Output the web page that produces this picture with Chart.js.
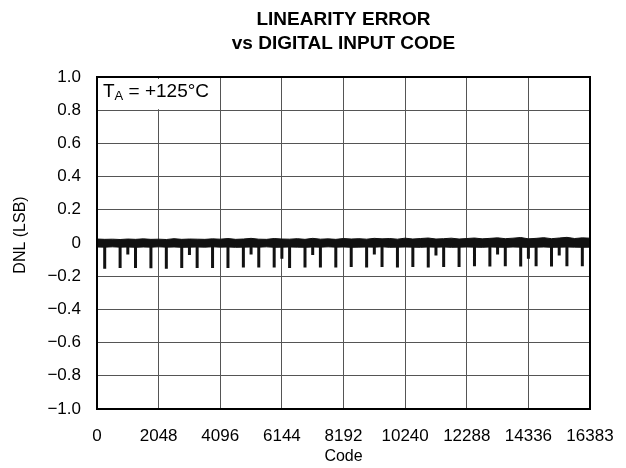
<!DOCTYPE html>
<html>
<head>
<meta charset="utf-8">
<script src="https://cdn.jsdelivr.net/npm/chart.js@4.4.0/dist/chart.umd.min.js"></script>
<style>
html,body{margin:0;padding:0;background:#fff;}
canvas{display:block;}
</style>
</head>
<body>
<canvas id="c" width="626" height="468"></canvas>
<script>
// ---- data ----
const titleLines = ["LINEARITY ERROR", "vs DIGITAL INPUT CODE"];
const xTickValues = [0, 2048, 4096, 6144, 8192, 10240, 12288, 14336, 16383];
const yTickValues = [-1, -0.8, -0.6, -0.4, -0.2, 0, 0.2, 0.4, 0.6, 0.8, 1];

// Band of DNL noise around zero (upper / lower envelope, every 256 codes)
const bandCodes = [0,256,512,768,1024,1280,1536,1792,2048,2304,2560,2816,3072,3328,3584,3840,
  4096,4352,4608,4864,5120,5376,5632,5888,6144,6400,6656,6912,7168,7424,7680,7936,
  8192,8448,8704,8960,9216,9472,9728,9984,10240,10496,10752,11008,11264,11520,11776,12032,
  12288,12544,12800,13056,13312,13568,13824,14080,14336,14592,14848,15104,15360,15616,15872,16128,16383];
const bandUpper = [0.024,0.022,0.023,0.021,0.024,0.022,0.025,0.022,0.023,0.021,0.026,0.022,0.024,0.023,0.022,0.025,
  0.023,0.027,0.022,0.024,0.028,0.023,0.022,0.027,0.024,0.023,0.026,0.022,0.028,0.023,0.025,0.022,
  0.027,0.024,0.026,0.023,0.028,0.025,0.027,0.023,0.029,0.024,0.027,0.030,0.024,0.026,0.029,0.024,
  0.027,0.030,0.025,0.028,0.031,0.026,0.029,0.033,0.025,0.028,0.032,0.026,0.030,0.034,0.027,0.031,0.029];
const bandLower = [-0.024,-0.025,-0.023,-0.025,-0.024,-0.026,-0.024,-0.025,-0.023,-0.025,-0.024,-0.026,-0.025,-0.024,-0.025,-0.023,
  -0.025,-0.024,-0.026,-0.025,-0.024,-0.025,-0.023,-0.026,-0.025,-0.024,-0.025,-0.026,-0.024,-0.025,-0.023,-0.025,
  -0.024,-0.026,-0.025,-0.024,-0.025,-0.023,-0.026,-0.025,-0.024,-0.025,-0.026,-0.024,-0.025,-0.024,-0.026,-0.025,
  -0.024,-0.025,-0.026,-0.024,-0.025,-0.026,-0.024,-0.025,-0.026,-0.025,-0.024,-0.026,-0.025,-0.024,-0.025,-0.026,-0.025];

// Negative DNL spikes (code, DNL value at bottom of spike)
const spikeCodes = [256,768,1024,1280,1792,2304,2816,3072,3328,3840,
  4352,4864,5120,5376,5888,6144,6400,6912,7168,7424,7936,
  8448,8960,9216,9472,9984,10496,11008,11264,11520,12032,
  12544,13056,13312,13568,14080,14336,14592,15104,15360,15616,16128];
const spikeValues = [-0.155,-0.150,-0.070,-0.150,-0.152,-0.155,-0.150,-0.072,-0.150,-0.150,
  -0.150,-0.148,-0.070,-0.148,-0.148,-0.095,-0.150,-0.148,-0.072,-0.148,-0.148,
  -0.145,-0.148,-0.070,-0.145,-0.148,-0.145,-0.148,-0.075,-0.145,-0.145,
  -0.140,-0.142,-0.070,-0.140,-0.142,-0.095,-0.140,-0.142,-0.075,-0.140,-0.140];
const annotation = {main: "T", sub: "A", rest: " = +125°C"};
const xTitle = "Code";
const yTitle = "DNL (LSB)";

// ---- build datasets ----
const upperPts = bandCodes.map((c, i) => ({x: c, y: bandUpper[i]}));
const lowerPts = bandCodes.map((c, i) => ({x: c, y: bandLower[i]}));
const spikePts = [];
spikeCodes.forEach((c, i) => {
  spikePts.push({x: c, y: 0});
  spikePts.push({x: c, y: spikeValues[i]});
  spikePts.push({x: c, y: null});
});

const FONT = "'Liberation Sans', Arial, Helvetica, sans-serif";

function fmtY(v) {
  const r = Math.round(v * 10) / 10;
  if (r === 0) return "0";
  return (r < 0 ? "\u2212" : "") + Math.abs(r).toFixed(1);
}

const decor = {
  id: 'decor',
  afterDatasetsDraw(chart) {
    const ctx = chart.ctx;
    const a = chart.chartArea;
    const xs = chart.scales.x, ys = chart.scales.y;
    // annotation box (covers top-left grid cells)
    const bx1 = a.left + 1, bx2 = xs.getPixelForValue(4096) - 1;
    const by1 = a.top + 2, by2 = ys.getPixelForValue(0.8) - 1;
    ctx.save();
    ctx.fillStyle = '#fff';
    ctx.fillRect(bx1, by1, bx2 - bx1, by2 - by1);
    ctx.fillStyle = '#000';
    ctx.textBaseline = 'alphabetic';
    ctx.textAlign = 'left';
    let x = a.left + 6;
    const base = a.top + 20;
    ctx.font = "19px " + FONT;
    ctx.fillText(annotation.main, x, base);
    x += ctx.measureText(annotation.main).width;
    ctx.font = "13px " + FONT;
    ctx.fillText(annotation.sub, x, base + 3);
    x += ctx.measureText(annotation.sub).width;
    ctx.font = "19px " + FONT;
    ctx.fillText(annotation.rest, x, base);
    // frame
    ctx.strokeStyle = '#000';
    ctx.lineWidth = 2;
    ctx.strokeRect(a.left, a.top, a.right - a.left, a.bottom - a.top);
    // titles
    const cx = (a.left + a.right) / 2;
    ctx.textAlign = 'center';
    ctx.textBaseline = 'middle';
    ctx.font = "bold 19px " + FONT;
    ctx.fillText(titleLines[0], cx, 20);
    ctx.fillText(titleLines[1], cx, 44);
    ctx.font = "16px " + FONT;
    ctx.fillText(xTitle, cx, 457);
    ctx.translate(21, 235);
    ctx.rotate(-Math.PI / 2);
    ctx.fillText(yTitle, 0, 0);
    ctx.restore();
  }
};

new Chart(document.getElementById('c'), {
  type: 'line',
  data: {
    datasets: [
      {data: upperPts, borderColor: '#111', backgroundColor: '#111', borderWidth: 1, pointRadius: 0, fill: '+1', tension: 0},
      {data: lowerPts, borderColor: '#111', backgroundColor: '#111', borderWidth: 1, pointRadius: 0, fill: false, tension: 0},
      {data: spikePts, borderColor: '#111', borderWidth: 3, pointRadius: 0, fill: false, spanGaps: false, borderCapStyle: 'butt'}
    ]
  },
  options: {
    responsive: false,
    animation: false,
    devicePixelRatio: 1,
    layout: {padding: {top: 77, right: 36, bottom: 0, left: 0}},
    plugins: {legend: {display: false}, tooltip: {enabled: false}, title: {display: false}},
    scales: {
      x: {
        type: 'linear', min: 0, max: 16383,
        afterBuildTicks: s => { s.ticks = xTickValues.map(v => ({value: v})); },
        afterFit: s => { s.height = 59; s.paddingLeft = 0; s.paddingRight = 0; },
        ticks: {font: {family: FONT, size: 17}, color: '#000', padding: 17, maxRotation: 0, autoSkip: false,
          callback: v => String(v)},
        grid: {color: '#555', lineWidth: 1, drawTicks: false},
        border: {display: false}
      },
      y: {
        type: 'linear', min: -1, max: 1,
        afterBuildTicks: s => { s.ticks = yTickValues.map(v => ({value: v})); },
        afterFit: s => { s.width = 97; s.paddingTop = 0; s.paddingBottom = 0; },
        ticks: {font: {family: FONT, size: 17}, color: '#000', padding: 16, callback: v => fmtY(v)},
        grid: {color: '#555', lineWidth: 1, drawTicks: false},
        border: {display: false}
      }
    }
  },
  plugins: [decor]
});
</script>
</body>
</html>
